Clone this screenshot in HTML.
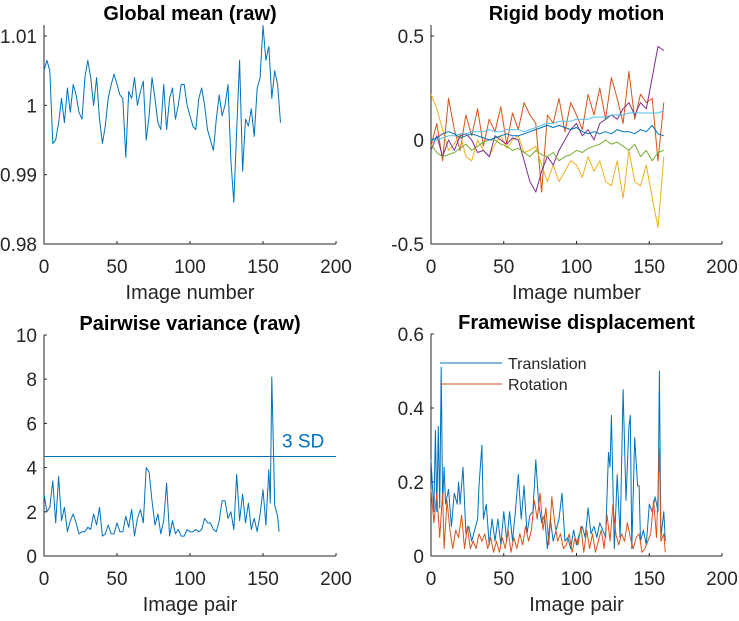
<!DOCTYPE html>
<html><head><meta charset="utf-8"><style>
body{margin:0;background:#fff;font-family:"Liberation Sans",Arial,sans-serif}
svg text{font-family:"Liberation Sans",Arial,sans-serif;fill:#262626}
</style></head><body>
<svg id="chart" width="739" height="616" viewBox="0 0 739 616" xmlns="http://www.w3.org/2000/svg"></svg>
<script>
// Panel 1: global mean
const gmX=[0,2,4,6,8,10,12,14,16,18,20,22,24,26,28,30,32,34,36,38,40,42,44,46,48,50,52,54,56,58,60,62,64,66,68,70,72,74,76,78,80,82,84,86,88,90,92,94,96,98,100,102,104,106,108,110,112,114,116,118,120,122,124,126,128,130,132,134,136,138,140,142,144,146,148,150,152,154,156,158,160,162];
const gmY=[1.005,1.0065,1.005,0.9945,0.995,0.9975,1.001,0.9975,1.0025,0.999,1.003,1.0015,0.999,0.998,1.004,1.0065,1.004,1.0,1.004,0.998,0.9945,0.997,1.001,1.003,1.0045,1.003,1.0015,1.001,0.9925,1.002,1.001,1.004,1.0,1.002,1.0035,0.995,0.9985,1.004,1.001,0.9975,0.9965,1.003,0.9965,1.001,1.0025,0.998,1.0,1.003,1.003,1.0,0.9985,0.997,0.9965,1.001,1.0025,1.0,0.9965,0.995,0.9935,0.998,1.0015,0.9985,1.0,1.003,0.992,0.986,0.9965,1.0065,0.9905,0.998,0.997,0.9995,0.9955,1.0025,1.004,1.0115,1.0065,1.0085,1.001,1.005,1.003,0.9975];
const gmTicks=[0.98,0.99,1,1.01];
const gmTickLabels=["0.98","0.99","1","1.01"];
// Panel 2: rigid body motion
const rbX=[0,4,8,12,16,20,24,28,32,36,40,44,48,52,56,60,64,68,72,76,80,84,88,92,96,100,104,108,112,116,120,124,128,132,136,140,144,148,152,156,160];
const rbBlue=[0,0.01,0.03,0.04,0.03,0.01,0.02,0.03,0.02,0.01,0.0,0.01,0.02,0.03,0.02,0.02,0.03,0.04,0.05,0.06,0.07,0.06,0.07,0.06,0.05,0.06,0.04,0.03,0.04,0.03,0.04,0.03,0.05,0.04,0.04,0.03,0.05,0.04,0.07,0.03,0.02];
const rbOrange=[-0.03,0.08,-0.1,0.2,0.05,-0.05,0.12,0.02,0.15,-0.03,0.1,0.04,0.16,-0.02,0.13,0.05,0.18,0.12,0.08,-0.25,0.12,0.08,0.2,0.04,0.18,0.12,0.05,0.22,0.12,0.25,0.1,0.3,0.2,0.08,0.33,0.1,0.22,0.18,0.2,-0.1,0.18];
const rbYellow=[0.22,0.15,0.05,-0.05,-0.02,0.03,-0.08,-0.1,0.0,-0.05,-0.08,-0.02,0.02,-0.04,0.0,0.02,-0.06,-0.05,-0.03,-0.12,-0.2,-0.12,-0.2,-0.15,-0.1,-0.12,-0.18,-0.08,-0.15,-0.1,-0.2,-0.22,-0.1,-0.28,-0.05,-0.2,-0.22,-0.12,-0.28,-0.42,-0.08];
const rbPurple=[-0.05,0.02,-0.08,0.0,-0.05,0.02,0.03,0.0,-0.06,-0.05,-0.08,0.02,0.0,-0.02,0.01,0.0,-0.1,-0.2,-0.25,-0.15,-0.08,-0.12,-0.05,0.0,0.05,0.08,0.02,0.05,0.0,0.08,0.1,0.12,0.1,0.15,0.18,0.12,0.18,0.15,0.3,0.45,0.43];
const rbGreen=[-0.02,-0.06,-0.08,-0.07,-0.06,-0.04,-0.02,-0.05,-0.03,-0.01,0.0,0.0,-0.02,-0.03,-0.05,-0.04,-0.06,-0.08,-0.05,-0.07,-0.08,-0.06,-0.1,-0.08,-0.07,-0.05,-0.06,-0.04,-0.03,-0.02,0.0,-0.02,-0.01,-0.03,-0.05,-0.02,-0.08,-0.05,-0.1,-0.06,-0.05];
const rbCyan=[0,0.0,0.01,0.02,0.02,0.03,0.03,0.04,0.04,0.04,0.05,0.04,0.04,0.05,0.05,0.05,0.04,0.05,0.06,0.07,0.08,0.08,0.09,0.09,0.09,0.1,0.1,0.1,0.11,0.11,0.11,0.12,0.12,0.12,0.13,0.13,0.13,0.13,0.13,0.13,0.14];
const rbTicks=[-0.5,0,0.5];
const rbTickLabels=["-0.5","0","0.5"];
// Panel 3: pairwise variance
const pvX=[0,2,4,6,8,10,12,14,16,18,20,22,24,26,28,30,32,34,36,38,40,42,44,46,48,50,52,54,56,58,60,62,64,66,68,70,72,74,76,78,80,82,84,86,88,90,92,94,96,98,100,102,104,106,108,110,112,114,116,118,120,122,124,126,128,130,132,134,136,138,140,142,144,146,148,150,152,154,155,156,158,160,161];
const pvY=[2.8,2.0,2.2,3.4,1.5,3.6,1.6,2.2,1.1,1.6,1.9,1.5,1.0,1.1,1.1,1.3,1.2,1.9,1.4,2.2,0.9,1.0,1.4,1.0,1.0,1.5,1.1,1.1,1.8,1.3,2.1,0.9,1.7,2.1,1.5,4.0,3.8,2.5,1.4,1.9,1.0,1.6,3.3,0.9,1.6,1.0,1.2,0.9,0.9,1.2,1.1,1.1,1.2,1.1,1.2,1.7,1.5,1.5,1.2,1.1,1.6,2.5,2.5,1.7,2.0,1.2,3.7,1.6,2.8,1.5,2.4,1.2,1.7,1.1,1.9,3.0,1.4,3.9,2.4,8.1,2.3,1.8,1.1];
const pvThreshold=[4.5];
const pvTicks=[0,2,4,6,8,10];
// Panel 4: framewise displacement
const fdTX=[0,2,3,4,5,6,7,8,9,10,12,14,16,18,19,20,22,24,26,28,30,32,33,35,36,38,40,42,44,46,48,50,52,54,56,58,60,62,64,66,68,70,72,74,76,78,80,82,84,86,88,90,92,94,96,98,100,102,104,106,108,110,112,114,116,118,120,122,123,124,126,128,130,132,134,136,137,138,140,142,143,144,146,148,150,152,154,156,157,158,160,161];
const fdT=[0.26,0.12,0.34,0.12,0.35,0.13,0.51,0.14,0.24,0.14,0.18,0.08,0.17,0.14,0.20,0.14,0.24,0.06,0.08,0.04,0.07,0.10,0.19,0.30,0.10,0.14,0.03,0.10,0.04,0.10,0.03,0.12,0.04,0.12,0.04,0.12,0.22,0.10,0.19,0.06,0.11,0.12,0.26,0.14,0.09,0.11,0.02,0.10,0.04,0.07,0.10,0.17,0.04,0.05,0.02,0.07,0.03,0.06,0.08,0.05,0.13,0.06,0.08,0.05,0.09,0.07,0.05,0.28,0.24,0.38,0.02,0.22,0.05,0.45,0.15,0.35,0.38,0.02,0.32,0.19,0.19,0.04,0.07,0.03,0.14,0.12,0.16,0.12,0.50,0.05,0.12,0.04];
const fdRX=[0,2,4,6,8,9,11,13,15,17,19,21,23,25,27,29,31,33,35,37,39,41,43,45,47,49,51,53,55,57,59,61,63,65,67,69,71,73,75,77,79,81,83,85,87,89,91,93,95,97,99,101,103,105,107,109,111,113,115,117,119,121,123,125,127,129,131,133,135,137,139,141,143,145,147,149,151,153,155,157,158,160,161];
const fdR=[0.18,0.09,0.17,0.05,0.17,0.02,0.15,0.07,0.02,0.07,0.05,0.11,0.02,0.08,0.02,0.04,0.02,0.06,0.04,0.06,0.02,0.05,0.01,0.04,0.01,0.05,0.02,0.07,0.01,0.05,0.02,0.06,0.03,0.08,0.04,0.07,0.15,0.10,0.17,0.07,0.13,0.03,0.16,0.09,0.04,0.06,0.02,0.03,0.06,0.01,0.05,0.03,0.08,0.01,0.07,0.02,0.06,0.01,0.04,0.07,0.02,0.11,0.04,0.14,0.06,0.03,0.06,0.04,0.09,0.05,0.02,0.05,0.06,0.01,0.02,0.04,0.06,0.15,0.05,0.29,0.04,0.06,0.01];
const fdTicks=[0,0.2,0.4,0.6];
const fdTickLabels=["0","0.2","0.4","0.6"];
const xTicks=[0,50,100,150,200];

const NS='http://www.w3.org/2000/svg';
const svg=document.getElementById('chart');
function mk(tag,attrs,parent){const e=document.createElementNS(NS,tag);for(const k in attrs)e.setAttribute(k,attrs[k]);(parent||svg).appendChild(e);return e;}

function panel(o){
  const g=mk('g',{});
  
  
  const sx=v=>o.l+(v-0)/(200-0)*(o.r-o.l);
  const sy=v=>o.y0px+(v-o.y0)/(o.y1-o.y0)*(o.y1px-o.y0px);
  const t=mk('text',{x:(o.l+o.r)/2,y:o.top-5,'text-anchor':'middle','font-size':'20','font-weight':'bold',fill:'#000'},g);
  t.style.fill='#000';t.textContent=o.title;
  
  
  const ax=mk('path',{d:`M${o.l},${o.top}V${o.bottom}H${o.r}`,fill:'none',stroke:'#262626','stroke-width':'1'},g);
  
  
  xTicks.forEach(v=>{
    mk('line',{x1:sx(v),x2:sx(v),y1:o.bottom,y2:o.bottom-3,stroke:'#262626'},g);
    const tl=mk('text',{x:sx(v),y:o.bottom+29,'text-anchor':'middle','font-size':'19'},g);tl.textContent=v;
    
    
  });
  o.yTicks.forEach((v,i)=>{
    mk('line',{x1:o.l,x2:o.l+3,y1:sy(v),y2:sy(v),stroke:'#262626'},g);
    const tl=mk('text',{x:o.l-7,y:sy(v)+7,'text-anchor':'end','font-size':'19'},g);tl.textContent=o.yLabels[i];
    
    
  });
  const xl=mk('text',{x:(o.l+o.r)/2,y:o.bottom+55,'text-anchor':'middle','font-size':'20'},g);xl.textContent=o.xlabel;
  
  
  o.series.forEach(s=>{
    const d=s.x.map((x,i)=>(i?'L':'M')+sx(x).toFixed(1)+','+sy(s.y[i]).toFixed(1)).join('');
    const p=mk('path',{d,fill:'none',stroke:s.c,'stroke-width':'1','stroke-linejoin':'round'},g);
    
    
  });
  return {g,sx,sy};
}

panel({name:'global-mean-panel',title:'Global mean (raw)',l:44,r:336,top:25,bottom:244,y0:0.98,y1:1.01,y0px:244,y1px:36,yTicks:gmTicks,yLabels:gmTickLabels,xlabel:'Image number',
  series:[{x:gmX,y:gmY,c:'#0072BD',n:'global-mean-line'}]});

panel({name:'rigid-body-panel',title:'Rigid body motion',l:431,r:722,top:25,bottom:244,y0:-0.5,y1:0.5,y0px:244,y1px:36,yTicks:rbTicks,yLabels:rbTickLabels,xlabel:'Image number',
  series:[{x:rbX,y:rbOrange,c:'#D95319',n:'rotation-x-line'},{x:rbX,y:rbYellow,c:'#EDB120',n:'rotation-y-line'},{x:rbX,y:rbPurple,c:'#7E2F8E',n:'rotation-z-line'},{x:rbX,y:rbGreen,c:'#77AC30',n:'translation-z-line'},{x:rbX,y:rbCyan,c:'#4DBEEE',n:'translation-y-line'},{x:rbX,y:rbBlue,c:'#0072BD',n:'translation-x-line'}]});

const p3=panel({name:'pairwise-variance-panel',title:'Pairwise variance (raw)',l:44,r:336,top:335,bottom:556,y0:0,y1:10,y0px:556,y1px:335,yTicks:pvTicks,yLabels:pvTicks.map(String),xlabel:'Image pair',
  series:[{x:pvX,y:pvY,c:'#0072BD',n:'pairwise-variance-line'}]});
const th=mk('line',{x1:44,x2:336,y1:p3.sy(pvThreshold[0]),y2:p3.sy(pvThreshold[0]),stroke:'#0072BD','stroke-width':'1'},p3.g);


const thl=mk('text',{x:282,y:p3.sy(pvThreshold[0])-9,'font-size':'19'},p3.g);
thl.style.fill='#0072BD';thl.textContent='3 SD';



const p4=panel({name:'framewise-displacement-panel',title:'Framewise displacement',l:431,r:722,top:334,bottom:556,y0:0,y1:0.6,y0px:556,y1px:334,yTicks:fdTicks,yLabels:fdTickLabels,xlabel:'Image pair',
  series:[{x:fdTX,y:fdT,c:'#0072BD',n:'translation-line'},{x:fdRX,y:fdR,c:'#D95319',n:'rotation-line'}]});
[['Translation','#0072BD',363],['Rotation','#D95319',384]].forEach(([lab,c,y])=>{
  const lg=mk('g',{},p4.g);
  
  
  mk('line',{x1:440,x2:502,y1:y,y2:y,stroke:c,'stroke-width':'1'},lg);
  const t=mk('text',{x:508,y:y+6,'font-size':'16'},lg);t.textContent=lab;
});
</script>
</body></html>
